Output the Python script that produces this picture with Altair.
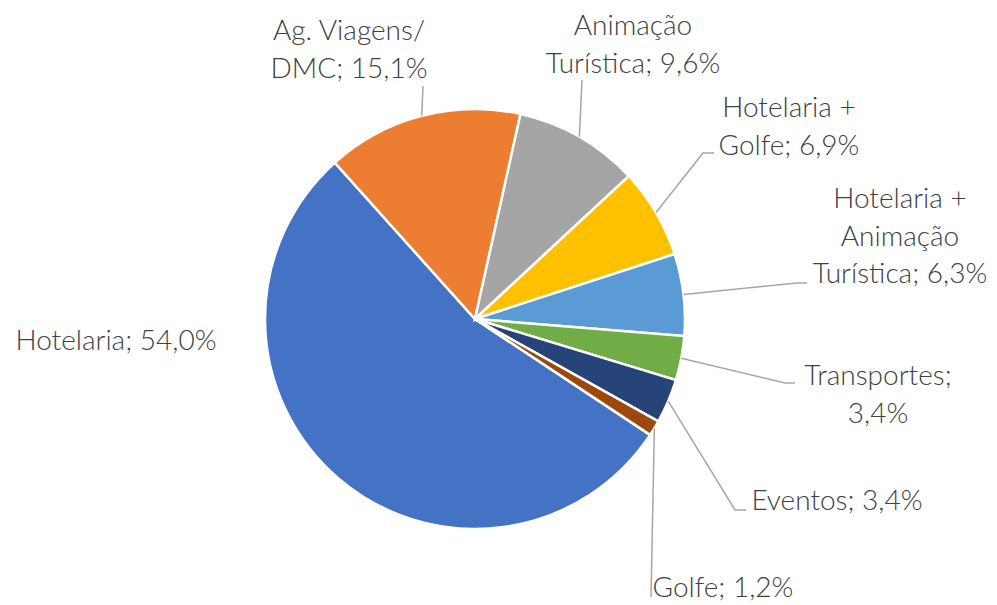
import math
import altair as alt
import pandas as pd

# ---------------- data ----------------
CATEGORIES = ["Hotelaria", "Ag. Viagens/\nDMC", "Animação\nTurística", "Hotelaria +\nGolfe",
              "Hotelaria +\nAnimação\nTurística", "Transportes", "Eventos", "Golfe"]
VALUES = [54.0, 15.1, 9.6, 6.9, 6.3, 3.4, 3.4, 1.2]
COLORS = ["#4472C4", "#ED7D31", "#A5A5A5", "#FFC000", "#5B9BD5", "#70AD47", "#264478", "#9E480E"]
SEPARATORS = ["; ", "; ", "; ", "; ", "; ", ";\n", "; ", "; "]

# ---------------- layout (page pixels) ----------------
PAGE_MARGIN = 8
W, H = 981, 589
CX, CY, R = 475, 319, 210
FIRST_ANGLE = 123.5  # degrees clockwise from 12 o'clock
FONT = "Lato"
FONT_SIZE = 28
LINE_H = 37.5
TEXT_COLOR = "#404040"
LEADER_COLOR = "#A6A6A6"

# label block: (centre x, first baseline y); leader: points after the slice edge point
LABEL_POS = {
    0: (116, 350), 1: (349, 40), 2: (633, 35), 3: (789, 117),
    4: (900, 208), 5: (878, 385), 6: (837, 510), 7: (723, 597),
}
LEADER_PTS = {
    1: [(423, 86)], 2: [(582, 80)], 3: [(703, 153), (714, 153)],
    4: [(797, 283), (807, 283)], 5: [(785, 383), (795, 383)],
    6: [(735, 510), (746, 510)], 7: [(651, 597)],
}

def fmt(v):
    return f"{v:.1f}".replace(".", ",") + "%"

total = sum(VALUES)
pie_df = pd.DataFrame({"cat": CATEGORIES, "value": VALUES, "idx": range(len(VALUES))})

# leader lines and labels derived from the slice angles
rows_line, rows_text = [], []
cum = 0.0
for i, (c, v) in enumerate(zip(CATEGORIES, VALUES)):
    mid = math.radians(FIRST_ANGLE + (cum + v / 2) / total * 360)
    cum += v
    sx = CX + R * math.sin(mid)
    sy = CY - R * math.cos(mid)
    if i in LEADER_PTS:
        pts = [(sx, sy)] + LEADER_PTS[i]
        for k, (px, py) in enumerate(pts):
            rows_line.append({"cat": c, "k": k, "x": px - PAGE_MARGIN, "y": py - PAGE_MARGIN})
    tx, ty = LABEL_POS[i]
    rows_text.append({"label": c + SEPARATORS[i] + fmt(v), "x": tx - PAGE_MARGIN, "y": ty - PAGE_MARGIN})

line_df = pd.DataFrame(rows_line)
text_df = pd.DataFrame(rows_text)

xs = alt.Scale(domain=[0, W], range=[0, W], nice=False, zero=False)
ys = alt.Scale(domain=[0, H], range=[0, H], nice=False, zero=False)

pie = alt.Chart(pie_df).mark_arc(
    x=CX - PAGE_MARGIN, y=CY - PAGE_MARGIN, radius=R, stroke="white", strokeWidth=2.5
).encode(
    theta=alt.Theta("value:Q", stack=True,
                    scale=alt.Scale(range=[math.radians(FIRST_ANGLE), math.radians(FIRST_ANGLE) + 2 * math.pi])),
    order=alt.Order("idx:Q"),
    color=alt.Color("cat:N", scale=alt.Scale(domain=CATEGORIES, range=COLORS), legend=None),
)

leaders = alt.Chart(line_df).mark_line(color=LEADER_COLOR, strokeWidth=1.5).encode(
    x=alt.X("x:Q", scale=xs, axis=None),
    y=alt.Y("y:Q", scale=ys, axis=None),
    detail="cat:N",
    order="k:Q",
)

labels = alt.Chart(text_df).mark_text(
    font=FONT, fontSize=FONT_SIZE, fontWeight=300, color=TEXT_COLOR, align="center",
    baseline="alphabetic", lineBreak="\n", lineHeight=LINE_H
).encode(
    x=alt.X("x:Q", scale=xs, axis=None),
    y=alt.Y("y:Q", scale=ys, axis=None),
    text="label:N",
)

chart = alt.layer(pie, leaders, labels).properties(
    width=W, height=H, padding=0, background="white"
).configure_view(stroke=None)

chart.save("out.html", embed_options={"renderer": "svg", "actions": False})
